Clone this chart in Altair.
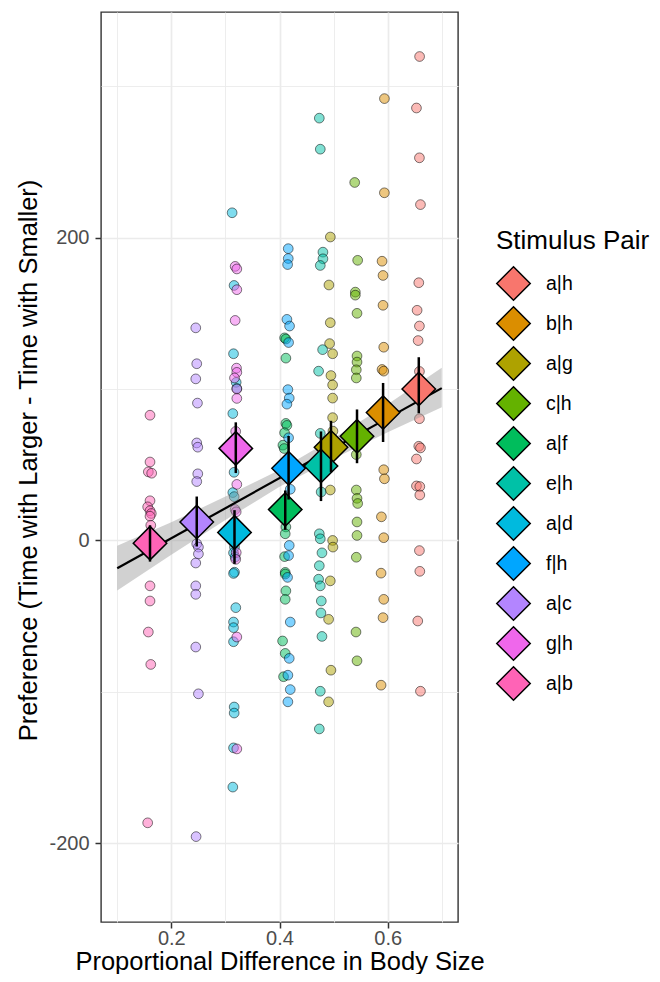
import altair as alt
import pandas as pd

# ---------------- data ----------------
pairs = ["a|h", "b|h", "a|g", "c|h", "a|f", "e|h", "a|d", "f|h", "a|c", "g|h", "a|b"]
colors = ["#F8766D", "#DB8E00", "#AEA200", "#64B200", "#00BD5C", "#00C1A7",
          "#00BADE", "#00A6FF", "#B385FF", "#EF67EB", "#FF63B6"]

# jittered raw observations per stimulus pair
ah_x = [0.659, 0.6532, 0.6587, 0.6606, 0.6575, 0.6544, 0.6587, 0.6563, 0.6587, 0.6587,
        0.6575, 0.6606, 0.6532, 0.6532, 0.6594, 0.6594, 0.6587, 0.6594, 0.6556, 0.6606]
ah_y = [319.6, 285.6, 252.7, 221.8, 170.2, 152, 141.6, 132, 111.6, 80.4,
        62.2, 61.1, 53.8, 36, 35.6, 30, -6.7, -20.4, -53.2, -99.6]
bh_x = [0.594, 0.5939, 0.5896, 0.5914, 0.5914, 0.5927, 0.5896, 0.5927, 0.5927, 0.594,
        0.5884, 0.5927, 0.5878, 0.5927, 0.5914, 0.5878]
bh_y = [291.8, 229.6, 184.4, 175, 155.3, 127.6, 112.9, 111.8, 46.7, 40.7,
        15.6, 1.8, -21.6, -38.9, -51, -95.6]
ag_x = [0.494, 0.4914, 0.4939, 0.4926, 0.4982, 0.4951, 0.4982, 0.4982, 0.4982, 0.4988,
        0.4939, 0.4982, 0.4988, 0.4939, 0.4908, 0.4951, 0.4908]
ag_y = [200.4, 168.7, 143.8, 130, 123.3, 108.9, 102.7, 94, 81.1, 72.2,
        33.3, 0, -4.4, -26.7, -52.1, -85.7, -106.6]
ch_x = [0.539, 0.5445, 0.5402, 0.5402, 0.5433, 0.5433, 0.5433, 0.542, 0.542, 0.542,
        0.542, 0.5433, 0.5445, 0.5433, 0.5433, 0.542, 0.5414, 0.5433]
ch_y = [236.4, 185, 164, 162, 150, 121.8, 117.8, 112.7, 107.3, 56.7,
        33.3, 27.8, 24.4, 12.2, 3.3, -11.1, -60.5, -79.5]
af_x = [0.4094, 0.4118, 0.4118, 0.4118, 0.4137, 0.4094, 0.4063, 0.4087, 0.4118, 0.4106,
        0.4094, 0.4106, 0.4106, 0.4118, 0.4106, 0.4057, 0.4106, 0.4075]
af_y = [133.8, 133, 120.4, 77.3, 76, 71.1, 62.9, 60.7, 8.9, 4.4,
        -10.7, -21.1, -22.2, -33.3, -38.9, -66.4, -74.6, -90]
eh_x = [0.4736, 0.4754, 0.4803, 0.4803, 0.4754, 0.4797, 0.4723, 0.4754, 0.477, 0.4736,
        0.4754, 0.4785, 0.4736, 0.4723, 0.4754, 0.4773, 0.4766, 0.4785, 0.4754, 0.4736]
eh_y = [278.9, 258.4, 190.4, 186, 181.6, 126, 111.8, 70.7, 32, 4.4,
        1.1, -8.2, -16.7, -25.6, -30, -40, -47.9, -63.4, -99.6, -124.5]
ad_x = [0.3124, 0.316, 0.315, 0.3199, 0.3211, 0.3137, 0.316, 0.3137, 0.3162, 0.3168,
        0.315, 0.318, 0.3168, 0.315, 0.3192, 0.315, 0.315, 0.315, 0.3162, 0.3162,
        0.315, 0.3137]
ad_y = [216.4, 168.4, 123.3, 104.4, 100.4, 83.8, 45, 31.6, 28.9, -4.4,
        -8.2, -11, -21, -21.8, -44.4, -53.9, -57.6, -66.9, -110, -114,
        -137, -162.9]
fh_x = [0.4162, 0.4162, 0.415, 0.4137, 0.4186, 0.4168, 0.4155, 0.418, 0.4137, 0.4168,
        0.4199, 0.418, 0.4168, 0.4149, 0.4199, 0.418, 0.4155, 0.4199, 0.4155]
fh_y = [192.7, 186.2, 182.2, 146, 141.6, 130.7, 99.6, 94, 90, 67.8,
        33.8, -3.3, -10, -24.4, -53.9, -77.9, -89, -98.5, -106.6]
ac_x = [0.2452, 0.247, 0.2452, 0.2483, 0.247, 0.2489, 0.2489, 0.247, 0.247, 0.2501,
        0.2501, 0.2452, 0.2452, 0.2452, 0.2452, 0.2501, 0.2458]
ac_y = [140.4, 116.7, 106.7, 90.7, 64.4, 61.6, 44, 38.9, -2.2, -4.4,
        -8.9, -14.9, -30, -35.6, -70.4, -101.3, -195.6]
gh_x = [0.318, 0.3211, 0.3211, 0.318, 0.3205, 0.3211, 0.3168, 0.3211, 0.3211, 0.319,
        0.3211, 0.318, 0.3199, 0.32, 0.319, 0.3211, 0.3211]
gh_y = [181, 179.3, 165.6, 145.3, 113.8, 111, 107.3, 100, 93.8, 72,
        37, 20.4, 18.9, -8, -12.5, -63.8, -137.7]
ab_x = [0.1606, 0.1606, 0.1575, 0.1637, 0.1606, 0.1563, 0.1606, 0.163, 0.1606, 0.162,
        0.1606, 0.1606, 0.1575, 0.162, 0.1563]
ab_y = [82.7, 51.8, 45.3, 44.4, 26.2, 22.2, 19.6, 17.8, 16, 10,
        -30, -40, -60.5, -81.9, -186.5]

# group means with their intervals (diamonds and error bars)
mean_x = [0.6575, 0.5915, 0.4952, 0.5433, 0.4106, 0.4767, 0.3168, 0.4168, 0.247, 0.3192, 0.1606]
mean_y = [100, 84.5, 61.5, 68.8, 20.4, 49.2, 5.3, 47.7, 12.2, 60.8, -1.8]
ci_lo = [84, 65, 45, 51, 7, 26, -15.5, 27, -4, 44.5, -14]
ci_hi = [121, 104, 79, 86.5, 33, 72, 20, 69, 29, 78, 10]

# fitted line and its confidence band
fit_x = [0.1, 0.7]
fit_y = [-18.4, 100.6]
band_x = [0.1, 0.2, 0.3, 0.4, 0.5, 0.6, 0.7]
band_lo = [-33, -9.5, 13.5, 35.5, 54, 71.5, 88]
band_hi = [-3.5, 12, 29, 46.5, 67.5, 90, 114]

x_ticks = [0.1, 0.2, 0.3, 0.4, 0.5, 0.6, 0.7]
y_ticks = [-200, -100, 0, 100, 200, 300]

# ---------------- tables ----------------
groups = [("a|h", ah_x, ah_y), ("b|h", bh_x, bh_y), ("a|g", ag_x, ag_y), ("c|h", ch_x, ch_y),
          ("a|f", af_x, af_y), ("e|h", eh_x, eh_y), ("a|d", ad_x, ad_y), ("f|h", fh_x, fh_y),
          ("a|c", ac_x, ac_y), ("g|h", gh_x, gh_y), ("a|b", ab_x, ab_y)]
rows = []
for name, xs, ys in groups:
    for xv, yv in zip(xs, ys):
        rows.append({"pair": name, "x": xv, "y": yv})
pts = pd.DataFrame(rows)
means = pd.DataFrame({"pair": pairs, "x": mean_x, "y": mean_y, "lo": ci_lo, "hi": ci_hi})
fit = pd.DataFrame({"x": fit_x, "y": fit_y})
band = pd.DataFrame({"x": band_x, "lo": band_lo, "hi": band_hi})

# ---------------- scales / axes ----------------
xscale = alt.Scale(domain=[0.07, 0.73], nice=False, zero=False)
yscale = alt.Scale(domain=[-252, 349], nice=False, zero=False)
cscale = alt.Scale(domain=pairs, range=colors)

x_minor = "datum.value == 0.1 || datum.value == 0.3 || datum.value == 0.5 || datum.value == 0.7"
y_minor = "datum.value == -100 || datum.value == 100 || datum.value == 300"

x_axis = alt.Axis(
    values=x_ticks, title="Proportional Difference in Body Size",
    labelExpr="(datum.value == 0.2 || datum.value == 0.4 || datum.value == 0.6) ? toString(datum.value) : ''",
    grid=True, domain=False,
    gridColor="#EBEBEB",
    gridWidth={"condition": {"test": x_minor, "value": 0.9}, "value": 1.7},
    tickColor="#333333", tickWidth=1.5, tickSize=6,
    tickOpacity={"condition": {"test": x_minor, "value": 0}, "value": 1},
    labelFontSize=20, labelColor="#4D4D4D", labelBaseline="alphabetic", labelPadding=16,
    titleFontSize=25.5, titleFontWeight="normal", titleColor="black",
    titleBaseline="alphabetic", titleX=178.5, titleY=47, titleAlign="center",
)
y_axis = alt.Axis(
    values=y_ticks, title="Preference (Time with Larger - Time with Smaller)",
    labelExpr="(datum.value % 200 == 0) ? toString(datum.value) : ''",
    grid=True, domain=False,
    gridColor="#EBEBEB",
    gridWidth={"condition": {"test": y_minor, "value": 0.9}, "value": 1.7},
    tickColor="#333333", tickWidth=1.5, tickSize=6,
    tickOpacity={"condition": {"test": y_minor, "value": 0}, "value": 1},
    labelFontSize=20, labelColor="#4D4D4D", labelPadding=6,
    titleFontSize=25.5, titleFontWeight="normal", titleColor="black",
    titleAngle=270, titleBaseline="alphabetic", titleX=-64.5, titleY=448, titleAlign="center",
)

legend = alt.Legend(
    title="Stimulus Pair", orient="none", legendX=395, legendY=216, padding=0,
    symbolType="diamond", symbolSize=1120, symbolStrokeColor="black",
    symbolStrokeWidth=1.5, symbolOpacity=1,
    labelFontSize=19.5, labelColor="black", labelOffset=15,
    titleFontSize=26, titleFontWeight="normal", titleColor="black", titlePadding=12,
    rowPadding=-1,
)

points = alt.Chart(pts).mark_circle(
    size=95, fillOpacity=0.5, stroke="black", strokeOpacity=0.5, strokeWidth=1
).encode(
    x=alt.X("x:Q", scale=xscale, axis=x_axis),
    y=alt.Y("y:Q", scale=yscale, axis=y_axis),
    fill=alt.Fill("pair:N", scale=cscale, sort=pairs, legend=legend),
)

ribbon = alt.Chart(band).mark_area(color="#999999", opacity=0.45).encode(
    x=alt.X("x:Q", scale=xscale),
    y=alt.Y("lo:Q", scale=yscale),
    y2="hi:Q",
)

line = alt.Chart(fit).mark_line(color="black", strokeWidth=2.2).encode(
    x=alt.X("x:Q", scale=xscale),
    y=alt.Y("y:Q", scale=yscale),
)

diamonds = alt.Chart(means).mark_point(
    shape="diamond", filled=True, size=1120, opacity=1, stroke="black", strokeWidth=1.5
).encode(
    x=alt.X("x:Q", scale=xscale),
    y=alt.Y("y:Q", scale=yscale),
    fill=alt.Fill("pair:N", scale=cscale, sort=pairs, legend=legend),
)

errbars = alt.Chart(means).mark_rule(color="black", strokeWidth=2.5).encode(
    x=alt.X("x:Q", scale=xscale),
    y=alt.Y("lo:Q", scale=yscale),
    y2="hi:Q",
)

chart = alt.layer(points, ribbon, line, diamonds, errbars).properties(
    width=357, height=910,
    autosize=alt.AutoSizeParams(type="none"),
    padding={"left": 93, "top": 4, "right": 194, "bottom": 52},
).configure(
    font="Liberation Sans",
).configure_view(
    stroke="#333333", strokeWidth=1.4,
)

chart.save("out.html", embed_options={"renderer": "svg", "actions": False})
